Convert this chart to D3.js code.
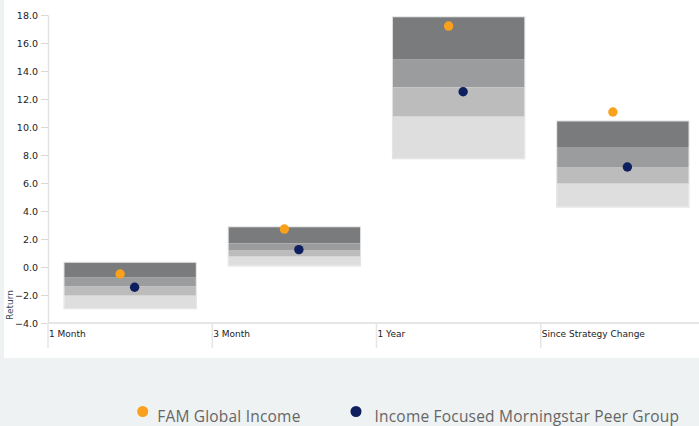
<!DOCTYPE html>
<html>
<head>
<meta charset="utf-8">
<script src="https://cdn.jsdelivr.net/npm/d3@7"></script>
<style>
  html, body { margin: 0; padding: 0; background: #eef2f3; }
  svg { display: block; }
</style>
</head>
<body>
<div id="chart"></div>
<script>
const categories = ['1 Month', '3 Month', '1 Year', 'Since Strategy Change'];

// peer group quartile bands, top to bottom
const topValues = [0.3, 2.84, 17.84, 10.4];
const q1Values = [-0.76, 1.69, 14.81, 8.57];
const medianValues = [-1.4, 1.17, 12.83, 7.14];
const q3Values = [-2.05, 0.74, 10.74, 5.95];
const bottomValues = [-2.95, 0.1, 7.76, 4.31];

const fundValues = [-0.5, 2.71, 17.21, 11.07];
const peerValues = [-1.45, 1.24, 12.52, 7.14];

const yTicks = [-4, -2, 0, 2, 4, 6, 8, 10, 12, 14, 16, 18];
const seriesNames = ['FAM Global Income', 'Income Focused Morningstar Peer Group'];
const seriesColors = ['#f9a11c', '#0d1f5e'];
const bandColors = ['#7a7b7c', '#9b9c9d', '#bcbcbc', '#dedede'];

const width = 699, height = 426;
const margin = { top: 15, left: 48, bottom: 103 };
const plotRight = 705;

const svg = d3.select('#chart').append('svg')
  .attr('width', width)
  .attr('height', height);

// white chart panel
svg.append('rect')
  .attr('x', 4).attr('y', 0)
  .attr('width', width - 4).attr('height', 358)
  .attr('fill', '#fff');

const x = d3.scaleBand()
  .domain(categories)
  .range([margin.left, plotRight])
  .paddingInner(0).paddingOuter(0);

const y = d3.scaleLinear()
  .domain([-4, 18])
  .range([height - margin.bottom, margin.top]);

const boxWidth = x.bandwidth() * 0.8;
const offset = d3.scalePoint().domain([0, 1]).range([-10, 4.5]);

// y axis
const yAxis = svg.append('g')
  .attr('transform', `translate(${margin.left},0)`)
  .call(d3.axisLeft(y).tickValues(yTicks).tickFormat(d3.format('.1f')).tickSize(7).tickPadding(3).tickSizeOuter(0));
yAxis.select('.domain').attr('stroke', '#e2e2e2').attr('stroke-width', 1.5);
yAxis.selectAll('.tick line').attr('stroke', '#d8d8d8');
yAxis.selectAll('.tick text')
  .attr('fill', '#222')
  .style('font-family', 'DejaVu Sans')
  .style('font-size', '9.5px');

svg.append('text')
  .attr('transform', `translate(12.5,305) rotate(-90)`)
  .attr('text-anchor', 'middle')
  .attr('fill', '#34495c')
  .style('font-family', 'DejaVu Sans')
  .style('font-size', '9px')
  .text('Return');

// x axis baseline and separators
svg.append('line')
  .attr('x1', margin.left).attr('x2', width)
  .attr('y1', y(-4)).attr('y2', y(-4))
  .attr('stroke', '#e6e6e6').attr('stroke-width', 2);

const cats = svg.append('g').selectAll('g')
  .data(categories)
  .join('g');

cats.append('line')
  .attr('x1', d => x(d)).attr('x2', d => x(d))
  .attr('y1', y(-4)).attr('y2', 348)
  .attr('stroke', '#e6e6e6').attr('stroke-width', 1.5);

cats.append('text')
  .attr('x', d => x(d) + 1)
  .attr('y', 337)
  .attr('fill', '#222')
  .style('font-family', 'DejaVu Sans')
  .style('font-size', '9px')
  .text(d => d);

// quartile boxes
const edges = [topValues, q1Values, medianValues, q3Values, bottomValues];
const boxes = svg.append('g').selectAll('g')
  .data(categories)
  .join('g');

boxes.append('rect')
  .attr('x', d => x(d) + (x.bandwidth() - boxWidth) / 2 - 0.5)
  .attr('y', (d, i) => y(topValues[i]) - 0.5)
  .attr('width', boxWidth + 1)
  .attr('height', (d, i) => y(bottomValues[i]) - y(topValues[i]) + 1)
  .attr('fill', 'none')
  .attr('stroke', '#e3e3e3');

boxes.each(function (d, i) {
  d3.select(this).selectAll('rect.band')
    .data(bandColors)
    .join('rect')
    .attr('class', 'band')
    .attr('x', x(d) + (x.bandwidth() - boxWidth) / 2)
    .attr('y', (c, k) => y(edges[k][i]))
    .attr('width', boxWidth)
    .attr('height', (c, k) => y(edges[k + 1][i]) - y(edges[k][i]))
    .attr('fill', c => c);
});

// points
[fundValues, peerValues].forEach((vals, s) => {
  svg.append('g').selectAll('circle')
    .data(categories)
    .join('circle')
    .attr('cx', d => x(d) + x.bandwidth() / 2 + offset(s))
    .attr('cy', (d, i) => y(vals[i]))
    .attr('r', 4.7)
    .attr('fill', seriesColors[s]);
});

// legend
const legendX = [142.7, 356];
const legend = svg.append('g').selectAll('g')
  .data(seriesNames)
  .join('g')
  .attr('transform', (d, i) => `translate(${legendX[i]},411.5)`);

legend.append('circle')
  .attr('r', 5.5)
  .attr('fill', (d, i) => seriesColors[i]);

legend.append('text')
  .attr('x', (d, i) => i === 0 ? 14.5 : 18.5)
  .attr('y', 10.5)
  .attr('fill', '#666')
  .style('font-family', 'Open Sans')
  .style('font-size', '15.5px')
  .style('letter-spacing', '0.2px')
  .text(d => d);
</script>
</body>
</html>
